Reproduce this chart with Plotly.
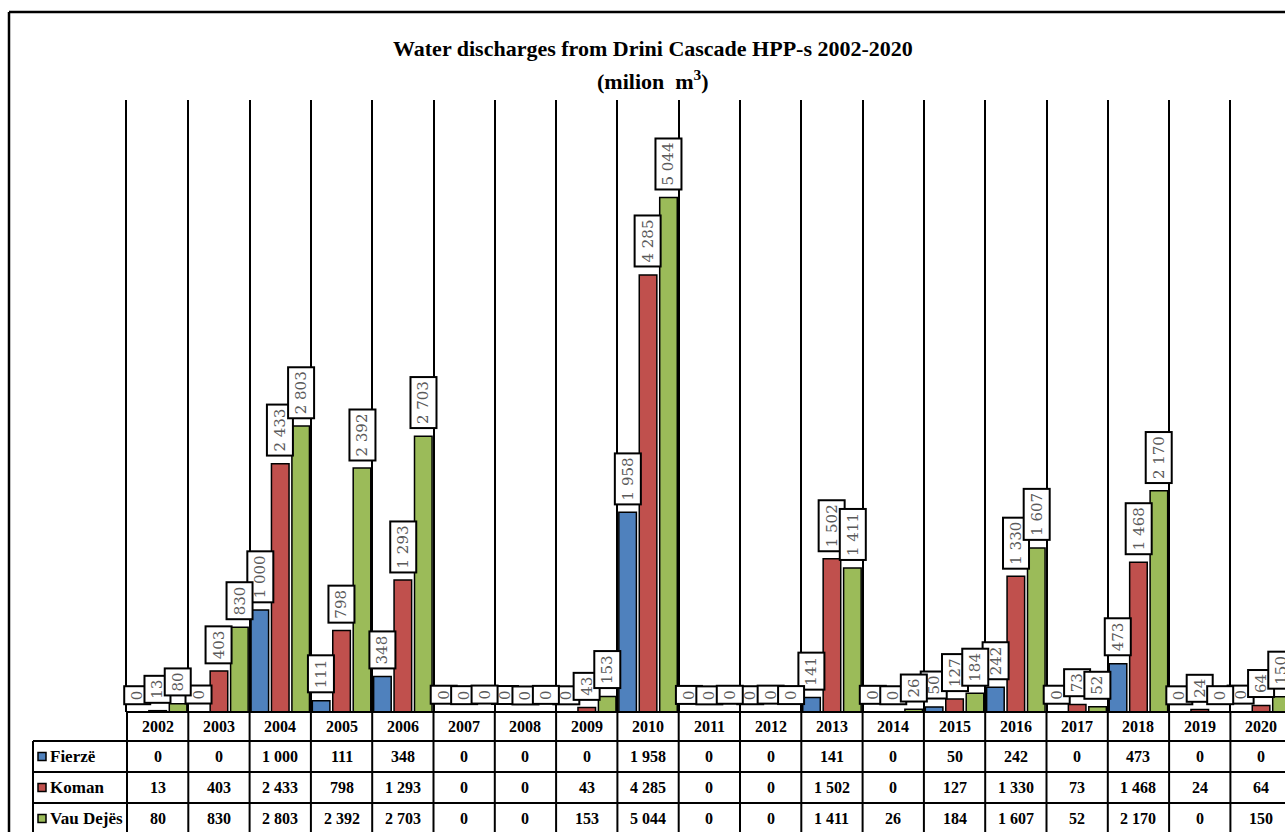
import plotly.graph_objects as go

# ---------------- data ----------------
years = [str(y) for y in range(2002, 2021)]
fierze = [0, 0, 1000, 111, 348, 0, 0, 0, 1958, 0, 0, 141, 0, 50, 242, 0, 473, 0, 0]
koman = [13, 403, 2433, 798, 1293, 0, 0, 43, 4285, 0, 0, 1502, 0, 127, 1330, 73, 1468, 24, 64]
vau_dejes = [80, 830, 2803, 2392, 2703, 0, 0, 153, 5044, 0, 0, 1411, 26, 184, 1607, 52, 2170, 0, 150]
series_names = ["Fierzë", "Koman", "Vau Dejës"]
series_values = [fierze, koman, vau_dejes]
colors = ["#4F81BD", "#C0504D", "#9BBB59"]

title_line1 = "Water discharges from Drini Cascade HPP-s 2002-2020"
title_line2 = "(milion  m<sup>3</sup>)"

# ---------------- layout geometry (pixels) ----------------
W, H = 1285, 832
PL, PR, PT, PB = 127, 1285, 100, 712
CAT_W = 61.3
x_min = -0.5
x_max = x_min + (PR - PL) / CAT_W
y_max = 6000


def fmt(v):
    return f"{v:,}".replace(",", " ")


def px_x(p):
    return (p - PL) / (PR - PL)


def px_y(p):
    return (PB - p) / (PB - PT)


def cat_px(c):
    return PL + (c - x_min) * CAT_W


fig = go.Figure()
for name, vals, col in zip(series_names, series_values, colors):
    fig.add_trace(go.Bar(
        x=years, y=vals, name=name,
        marker=dict(color=col, line=dict(color="black", width=1.5)),
        showlegend=False, hoverinfo="x+y+name",
    ))

annotations = []
shapes = []

# value labels (rotated, boxed)
n_series = len(series_names)
for k, vals in enumerate(series_values):
    off = (k - (n_series - 1) / 2) / n_series
    for i, v in enumerate(vals):
        annotations.append(dict(
            x=i + off, y=v, xref="x", yref="y",
            text=fmt(v), showarrow=False, textangle=-90,
            xanchor="center", yanchor="bottom", yshift=7,
            bgcolor="white", bordercolor="black", borderwidth=2, borderpad=3,
            font=dict(family="DejaVu Serif", size=15, color="#595959"),
        ))

# title
annotations.append(dict(
    x=px_x(653), y=px_y(48), xref="paper", yref="paper", showarrow=False,
    text="<b>" + title_line1 + "</b>", xanchor="center", yanchor="middle",
    font=dict(family="Liberation Serif", size=22, color="black"),
))
annotations.append(dict(
    x=px_x(653), y=px_y(80), xref="paper", yref="paper", showarrow=False,
    text="<b>" + title_line2 + "</b>", xanchor="center", yanchor="middle",
    font=dict(family="Liberation Serif", size=22, color="black"),
))

# ---------------- data table ----------------
row_edges = [712, 741, 772, 803, 834]
legend_left = 33
tfont = dict(family="Liberation Serif", size=16, color="black")
lfont = dict(family="Liberation Serif", size=17, color="black")
line = dict(color="black", width=2)

# horizontal lines
shapes.append(dict(type="line", xref="paper", yref="paper",
                   x0=px_x(PL), x1=px_x(W + 20), y0=px_y(row_edges[0]), y1=px_y(row_edges[0]), line=line))
for r in row_edges[1:]:
    shapes.append(dict(type="line", xref="paper", yref="paper",
                       x0=px_x(legend_left), x1=px_x(W + 20), y0=px_y(r), y1=px_y(r), line=line))
# vertical lines
for i in range(len(years) + 1):
    xp = cat_px(i - 0.5)
    shapes.append(dict(type="line", xref="paper", yref="paper",
                       x0=px_x(xp), x1=px_x(xp), y0=px_y(row_edges[0]), y1=px_y(row_edges[-1]), line=line))
shapes.append(dict(type="line", xref="paper", yref="paper",
                   x0=px_x(legend_left), x1=px_x(legend_left), y0=px_y(row_edges[1]), y1=px_y(row_edges[-1]), line=line))

# header (years)
hy = (row_edges[0] + row_edges[1]) / 2
for i, yr in enumerate(years):
    annotations.append(dict(x=px_x(cat_px(i)), y=px_y(hy), xref="paper", yref="paper", showarrow=False,
                            text="<b>" + yr + "</b>", xanchor="center", yanchor="middle", font=tfont))
# rows
for k, (name, vals, col) in enumerate(zip(series_names, series_values, colors)):
    cy = (row_edges[k + 1] + row_edges[k + 2]) / 2
    shapes.append(dict(type="rect", xref="paper", yref="paper",
                       x0=px_x(38), x1=px_x(46), y0=px_y(cy - 4), y1=px_y(cy + 4),
                       fillcolor=col, line=dict(color="black", width=1.5)))
    annotations.append(dict(x=px_x(48), y=px_y(cy), xref="paper", yref="paper", showarrow=False,
                            text="<b>" + name + "</b>", xanchor="left", yanchor="middle", font=lfont))
    for i, v in enumerate(vals):
        annotations.append(dict(x=px_x(cat_px(i)), y=px_y(cy), xref="paper", yref="paper", showarrow=False,
                                text="<b>" + fmt(v) + "</b>", xanchor="center", yanchor="middle", font=tfont))

# outer chart border
border = dict(color="black", width=2.5)
shapes.append(dict(type="line", xref="paper", yref="paper",
                   x0=px_x(9), x1=px_x(W + 10), y0=px_y(12), y1=px_y(12), line=border))
shapes.append(dict(type="line", xref="paper", yref="paper",
                   x0=px_x(9), x1=px_x(9), y0=px_y(12), y1=px_y(H + 10), line=border))

fig.update_layout(
    width=W, height=H, autosize=False,
    margin=dict(l=PL, r=W - PR, t=PT, b=H - PB, pad=0),
    paper_bgcolor="white", plot_bgcolor="white",
    barmode="group", bargap=0.0, bargroupgap=0.14,
    xaxis=dict(type="category", range=[x_min, x_max], tickson="boundaries",
               showgrid=True, gridcolor="black", gridwidth=1.5,
               showticklabels=False, ticks="", showline=False, zeroline=False, fixedrange=True),
    yaxis=dict(range=[0, y_max], showgrid=False, showticklabels=False, ticks="",
               showline=True, linecolor="black", linewidth=1.5, zeroline=False, fixedrange=True),
    annotations=annotations, shapes=shapes,
    showlegend=False,
)

fig.write_html("out.html", config={"displayModeBar": False},
               post_script="document.body.style.margin='0';document.body.style.overflow='hidden';")
